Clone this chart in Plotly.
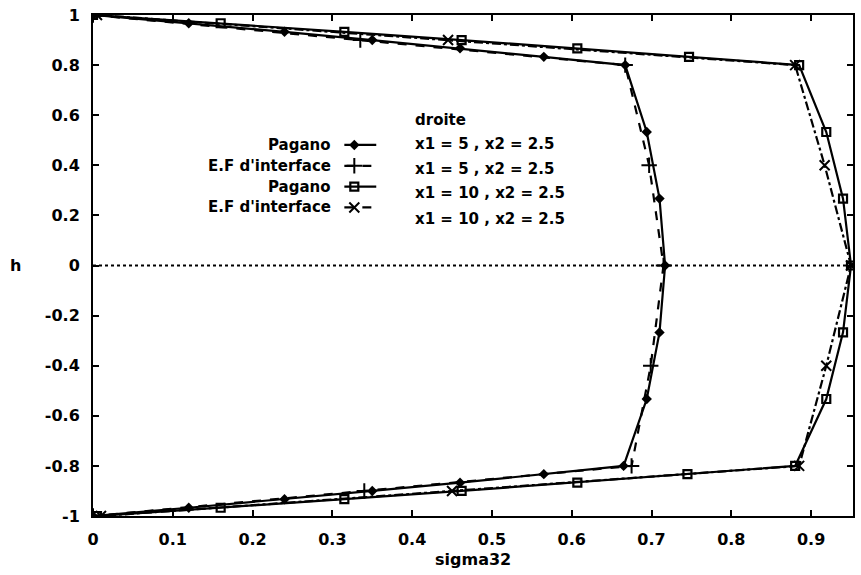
import plotly.graph_objects as go

# Pagano solution, x1 = 5 and x1 = 10 (h sampled every 1/30 in the skins)
h_pagano = [1, 0.967, 0.933, 0.9, 0.867, 0.833, 0.8, 0.533, 0.267, 0,
            -0.267, -0.533, -0.8, -0.833, -0.867, -0.9, -0.933, -0.967, -1]
sigma_pagano_5 = [0, 0.12, 0.24, 0.35, 0.46, 0.565, 0.667, 0.694, 0.71, 0.717,
                  0.71, 0.694, 0.665, 0.565, 0.46, 0.35, 0.24, 0.12, 0]
sigma_pagano_10 = [0, 0.16, 0.315, 0.462, 0.607, 0.747, 0.885, 0.919, 0.94, 0.95,
                   0.94, 0.919, 0.88, 0.745, 0.607, 0.462, 0.315, 0.16, 0.005]

# Interface finite elements, x1 = 5 and x1 = 10
h_ef = [1, 0.9, 0.8, 0.4, 0, -0.4, -0.8, -0.9, -1]
sigma_ef_5 = [0, 0.335, 0.667, 0.697, 0.715, 0.699, 0.675, 0.34, 0]
sigma_ef_10 = [0.005, 0.445, 0.88, 0.917, 0.95, 0.919, 0.885, 0.45, 0.01]

x_ticks = [0, 0.1, 0.2, 0.3, 0.4, 0.5, 0.6, 0.7, 0.8, 0.9]
x_tick_labels = ["0", "0.1", "0.2", "0.3", "0.4", "0.5", "0.6", "0.7", "0.8", "0.9"]
y_ticks = [1, 0.8, 0.6, 0.4, 0.2, 0, -0.2, -0.4, -0.6, -0.8, -1]
y_tick_labels = ["1", "0.8", "0.6", "0.4", "0.2", "0", "-0.2", "-0.4", "-0.6", "-0.8", "-1"]

key_titles = ["Pagano", "E.F d'interface", "Pagano", "E.F d'interface"]
key_notes = ["x1 = 5 , x2 = 2.5", "x1 = 5 , x2 = 2.5",
             "x1 = 10 , x2 = 2.5", "x1 = 10 , x2 = 2.5"]
key_header = "droite"

FONT = "DejaVu Sans"
W, H = 861, 575
L, R, T, B = 93, 6, 11, 59
PW, PH = W - L - R, H - T - B


def px(xp):
    """page pixel column -> paper x"""
    return (xp - L) / PW


def py(yp):
    """page pixel row -> paper y"""
    return (H - B - yp) / PH


styles = [
    dict(dash="solid", symbol="diamond", size=8, mline=0),
    dict(dash="dash", symbol="cross-thin", size=11, mline=2),
    dict(dash="solid", symbol="square-open", size=8, mline=2.2),
    dict(dash="dashdot", symbol="x-thin", size=10, mline=2),
]
series = [
    (sigma_pagano_5, h_pagano),
    (sigma_ef_5, h_ef),
    (sigma_pagano_10, h_pagano),
    (sigma_ef_10, h_ef),
]

fig = go.Figure()

for (xs, ys), st, name in zip(series, styles, key_titles):
    fig.add_trace(go.Scatter(
        x=xs, y=ys, mode="lines+markers", name=name, showlegend=False,
        line=dict(color="black", width=2.2, dash=st["dash"]),
        marker=dict(symbol=st["symbol"], size=st["size"], color="black",
                    line=dict(color="black", width=st["mline"])),
    ))

# key samples drawn on an overlay axis measured in page pixels
row_y = [142, 163, 184, 205]
for yk, st in zip(row_y, styles):
    fig.add_trace(go.Scatter(
        x=[345, 377], y=[yk, yk], mode="lines", xaxis="x2", yaxis="y2",
        showlegend=False, hoverinfo="skip",
        line=dict(color="black", width=2.2, dash=st["dash"] if st["dash"] != "dashdot" else "dash"),
    ))
    fig.add_trace(go.Scatter(
        x=[355], y=[yk], mode="markers", xaxis="x2", yaxis="y2",
        showlegend=False, hoverinfo="skip",
        marker=dict(symbol=st["symbol"], size=st["size"], color="black",
                    line=dict(color="black", width=st["mline"])),
    ))

key_font = dict(family=FONT, size=15, color="black", weight="bold")
annotations = []
for yk, title in zip(row_y, key_titles):
    annotations.append(dict(x=px(334), y=py(yk), xref="paper", yref="paper", text=title,
                            showarrow=False, xanchor="right", yanchor="middle", font=key_font))
annotations.append(dict(x=px(414), y=py(117), xref="paper", yref="paper", text=key_header,
                        showarrow=False, xanchor="left", yanchor="middle", font=key_font))
for yk, note in zip([141, 166, 190, 217], key_notes):
    annotations.append(dict(x=px(414), y=py(yk), xref="paper", yref="paper", text=note,
                            showarrow=False, xanchor="left", yanchor="middle", font=key_font))
# axis titles
title_font = dict(family=FONT, size=16, color="black", weight="bold")
annotations.append(dict(x=px(15), y=py(264), xref="paper", yref="paper", text="h",
                        showarrow=False, xanchor="center", yanchor="middle", font=title_font))
annotations.append(dict(x=px(474), y=py(560), xref="paper", yref="paper", text="sigma32",
                        showarrow=False, xanchor="center", yanchor="middle", font=title_font))

axis_common = dict(
    showgrid=False, zeroline=False, showline=True, linecolor="black", linewidth=2,
    mirror="ticks", ticks="inside", ticklen=6, tickwidth=1.5, tickcolor="black",
    tickfont=dict(family=FONT, size=16, color="black", weight="bold"),
)

fig.update_layout(
    width=W, height=H,
    margin=dict(l=L, r=R, t=T, b=B, pad=0),
    paper_bgcolor="white", plot_bgcolor="white",
    showlegend=False,
    xaxis=dict(range=[0, 0.9525], tickvals=x_ticks, ticktext=x_tick_labels,
               ticklabelstandoff=8, **axis_common),
    yaxis=dict(range=[-1, 1], tickvals=y_ticks, ticktext=y_tick_labels,
               ticklabelstandoff=8, **axis_common),
    xaxis2=dict(overlaying="x", range=[L, W - R], visible=False, anchor="y2"),
    yaxis2=dict(overlaying="y", range=[H - B, T], visible=False, anchor="x2"),
    annotations=annotations,
    shapes=[dict(type="line", xref="x domain", yref="y", x0=0, x1=1, y0=0, y1=0,
                 line=dict(color="black", width=2, dash="dot"), layer="below")],
)

fig.write_html("out.html")
